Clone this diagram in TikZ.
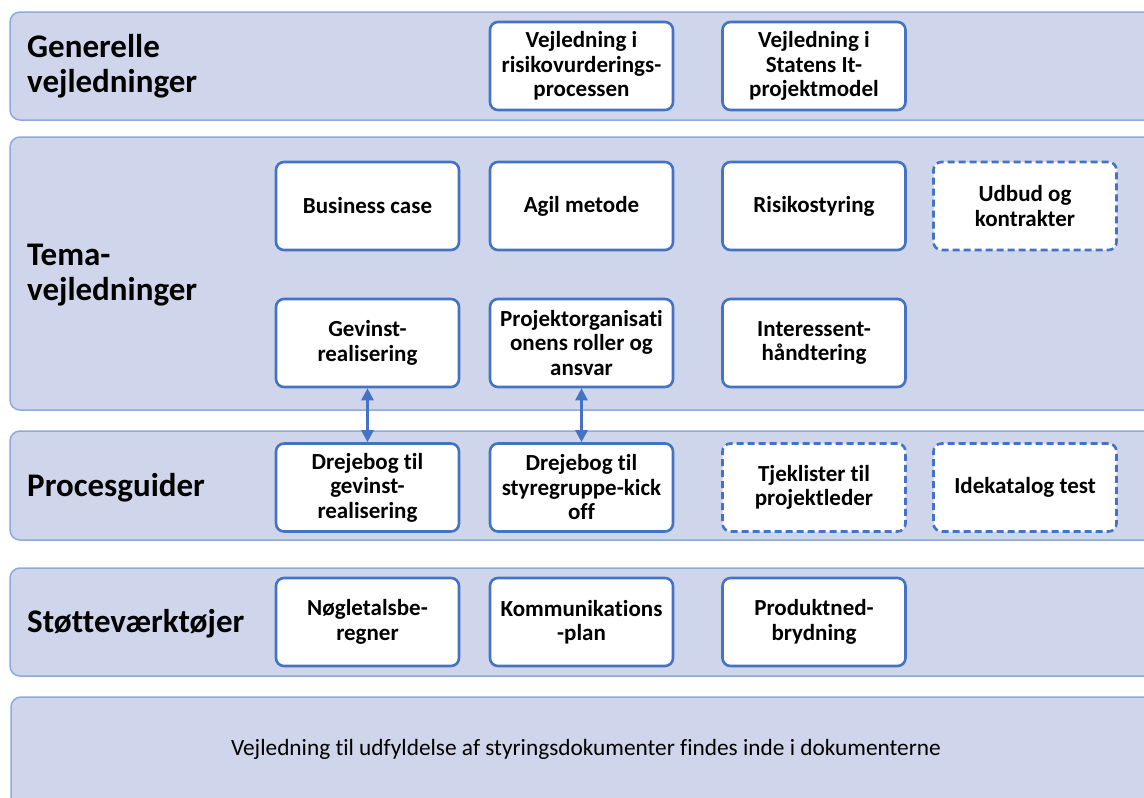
\documentclass[tikz,border=0pt]{standalone}
\usepackage{fontspec}
\setmainfont{Carlito}[Ligatures=NoCommon]
\usepackage{tikz}
\usetikzlibrary{arrows.meta,positioning}
\definecolor{bandfill}{HTML}{CFD5EA}
\definecolor{bandline}{HTML}{8FAADC}
\definecolor{boxline}{HTML}{4472C4}
\begin{document}
\begin{tikzpicture}[x=1pt,y=-1pt,
band/.style={fill=bandfill, draw=bandline, line width=1.5pt, rounded corners=10pt},
box/.style={draw=boxline, fill=white, line width=2.6pt, rounded corners=8pt,
  minimum width=183pt, minimum height=88pt, align=center, inner sep=2pt,
  font=\fontsize{23}{24.5}\selectfont\bfseries},
dbox/.style={box, dash pattern=on 7pt off 4pt},
head/.style={anchor=west, align=left, inner sep=0pt, font=\fontsize{33}{34.5}\selectfont\bfseries},
link/.style={draw=boxline, line width=2.6pt, {Triangle[length=12pt,width=12pt]}-{Triangle[length=12pt,width=12pt]}}
]
\useasboundingbox (0,0) rectangle (1144,798);
\clip (0,0) rectangle (1144,798);
% bands
\draw[band] (10,12) rectangle (1170,120);
\draw[band] (10,137) rectangle (1170,410);
\draw[band] (10,431) rectangle (1170,540);
\draw[band] (10,568) rectangle (1170,676);
\draw[band] (11,697) rectangle (1170,820);
% headings
\node[head] (hgen) at (27,66) {Generelle\\vejledninger};
\node[head] (htema) at (27,275) {Tema-\\vejledninger};
\node[head] (hproc) at (27,488) {Procesguider};
\node[head] (hstot) at (27,624) {Støtteværktøjer};
% generelle vejledninger
\node[box] (risvur) at (581.5,66) {Vejledning i\\risikovurderings-\\processen};
\node[box] (itmodel) at (814,66) {Vejledning i\\Statens It-\\projektmodel};
% tema-vejledninger
\node[box] (bcase) at (367.5,206) {Business case};
\node[box] (agil) at (581.5,206) {Agil metode};
\node[box] (risst) at (814,206) {Risikostyring};
\node[dbox] (udbud) at (1025,206) {Udbud og\\kontrakter};
\node[box] (gev) at (367.5,343) {Gevinst-\\realisering};
\node[box] (porg) at (581.5,343) {Projektorganisati\\onens roller og\\ansvar};
\node[box] (inter) at (814,343) {Interessent-\\håndtering};
% procesguider
\node[box] (dgev) at (367.5,487.5) {Drejebog til\\gevinst-\\realisering};
\node[box] (dstyr) at (581.5,487.5) {Drejebog til\\styregruppe-kick\\off};
\node[dbox] (tjek) at (814,487.5) {Tjeklister til\\projektleder};
\node[dbox] (ideka) at (1025,487.5) {Idekatalog test};
% stoetteværktoejer
\node[box] (nogl) at (367.5,622) {Nøgletalsbe-\\regner};
\node[box] (komm) at (581.5,622) {Kommunikations\\-plan};
\node[box] (prod) at (814,622) {Produktned-\\brydning};
% bottom
\node[font=\fontsize{23.3}{24}\selectfont] (note) at (586,749) {Vejledning til udfyldelse af styringsdokumenter findes inde i dokumenterne};
% links
\draw[link] (gev.south) -- (dgev.north);
\draw[link] (porg.south) -- (dstyr.north);
\end{tikzpicture}
\end{document}
